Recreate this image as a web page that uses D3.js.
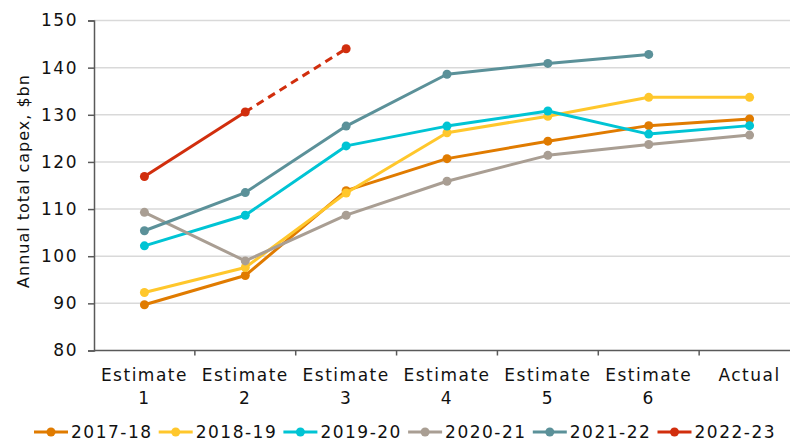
<!DOCTYPE html>
<html>
<head>
<meta charset="utf-8">
<script src="https://cdn.jsdelivr.net/npm/d3@7"></script>
<style>
  html, body { margin: 0; padding: 0; background: #fff; }
  svg { display: block; font-family: "DejaVu Sans", Verdana, sans-serif; }
</style>
</head>
<body>
<svg id="chart" width="790" height="441"></svg>
<script>
// ---- data ----
const categories = ["Estimate 1", "Estimate 2", "Estimate 3", "Estimate 4", "Estimate 5", "Estimate 6", "Actual"];
const seriesNames = ["2017-18", "2018-19", "2019-20", "2020-21", "2021-22", "2022-23"];
const v2017 = [89.7, 95.9, 113.9, 120.7, 124.4, 127.7, 129.1];
const v2018 = [92.3, 97.6, 113.4, 126.2, 129.7, 133.7, 133.7];
const v2019 = [102.2, 108.7, 123.4, 127.6, 130.8, 125.9, 127.7];
const v2020 = [109.3, 99.0, 108.7, 115.9, 121.4, 123.7, 125.7];
const v2021 = [105.4, 113.5, 127.6, 138.6, 140.9, 142.8, null];
const v2022 = [116.9, 130.6, 144.0, null, null, null, null];
const yTicks = [80, 90, 100, 110, 120, 130, 140, 150];
const colors = ["#E07B00", "#FFC72C", "#00C4D4", "#A99E93", "#5B9199", "#D12E0D"];
const seriesValues = [v2017, v2018, v2019, v2020, v2021, v2022];
// 2022-23 is solid up to Estimate 2, dashed after
const dashedFrom = [null, null, null, null, null, 1];

const svg = d3.select("#chart");
const mLeft = 94, mRight = 800, mTop = 20.5, mBottom = 350.5;

const x = d3.scaleBand().domain(categories).range([mLeft, mRight]).padding(0);
const y = d3.scaleLinear().domain([80, 150]).range([mBottom, mTop]);
const cx = c => x(c) + x.bandwidth() / 2;

// gridlines
svg.append("g")
  .selectAll("line")
  .data(yTicks.filter(t => t > 80))
  .join("line")
  .attr("x1", mLeft).attr("x2", 790)
  .attr("y1", d => y(d)).attr("y2", d => y(d))
  .attr("stroke", "#D9D9D9").attr("stroke-width", 1.5);

// y axis
const yAxis = svg.append("g")
  .attr("transform", `translate(${mLeft},0)`)
  .call(d3.axisLeft(y).tickValues(yTicks).tickSize(6).tickPadding(10));
yAxis.select(".domain").attr("stroke", "#595959").attr("stroke-width", 1.5);
yAxis.selectAll(".tick line").attr("stroke", "#595959").attr("stroke-width", 1.5);
yAxis.selectAll(".tick text")
  .attr("fill", "#111")
  .style("font-size", "17px")
  .style("letter-spacing", "1.5px")
  .style("font-family", "DejaVu Sans, Verdana, sans-serif");

// x axis
const boundaries = categories.map(c => x(c));
const xg = svg.append("g");
xg.append("line")
  .attr("x1", mLeft).attr("x2", mRight)
  .attr("y1", mBottom).attr("y2", mBottom)
  .attr("stroke", "#595959").attr("stroke-width", 1.5);
xg.selectAll("line.tk")
  .data(boundaries.slice(1))
  .join("line")
  .attr("class", "tk")
  .attr("x1", d => d).attr("x2", d => d)
  .attr("y1", mBottom).attr("y2", mBottom + 5)
  .attr("stroke", "#595959").attr("stroke-width", 1.5);
const xl = xg.selectAll("text.xl")
  .data(categories)
  .join("text")
  .attr("class", "xl")
  .attr("text-anchor", "middle")
  .attr("fill", "#111")
  .style("font-size", "17px")
  .style("letter-spacing", "1.5px");
xl.each(function(d) {
  const parts = d.split(" ");
  const t = d3.select(this);
  parts.forEach((p, i) => {
    t.append("tspan")
      .attr("x", cx(d))
      .attr("y", 381 + i * 22.5)
      .text(p);
  });
});

// y title
svg.append("text")
  .attr("transform", `translate(29, 181) rotate(-90)`)
  .attr("text-anchor", "middle")
  .attr("fill", "#111")
  .style("font-size", "16px")
  .style("letter-spacing", "1px")
  .text("Annual total capex, $bn");

// lines
const line = d3.line()
  .defined(d => d.v !== null)
  .x(d => cx(d.c))
  .y(d => y(d.v));

seriesValues.forEach((vals, si) => {
  const pts = vals.map((v, i) => ({ c: categories[i], v }));
  const g = svg.append("g");
  const df = dashedFrom[si];
  if (df === null) {
    g.append("path").attr("d", line(pts))
      .attr("fill", "none").attr("stroke", colors[si]).attr("stroke-width", 3)
      .attr("stroke-linejoin", "round");
  } else {
    g.append("path").attr("d", line(pts.slice(0, df + 1)))
      .attr("fill", "none").attr("stroke", colors[si]).attr("stroke-width", 3);
    g.append("path").attr("d", line(pts.slice(df)))
      .attr("fill", "none").attr("stroke", colors[si]).attr("stroke-width", 3)
      .attr("stroke-dasharray", "8,5.5");
  }
  g.selectAll("circle")
    .data(pts.filter(p => p.v !== null))
    .join("circle")
    .attr("cx", p => cx(p.c)).attr("cy", p => y(p.v))
    .attr("r", 4.5).attr("fill", colors[si]);
});

// legend
const legend = svg.append("g");
seriesNames.forEach((name, i) => {
  const x0 = 34 + i * 124.7;
  const gy = 432;
  legend.append("line")
    .attr("x1", x0).attr("x2", x0 + 34)
    .attr("y1", gy).attr("y2", gy)
    .attr("stroke", colors[i]).attr("stroke-width", 3);
  legend.append("circle")
    .attr("cx", x0 + 17).attr("cy", gy).attr("r", 4.5).attr("fill", colors[i]);
  legend.append("text")
    .attr("x", x0 + 37).attr("y", 438)
    .attr("fill", "#111")
    .style("font-size", "17px")
    .style("letter-spacing", "1.5px")
    .text(name);
});
</script>
</body>
</html>
